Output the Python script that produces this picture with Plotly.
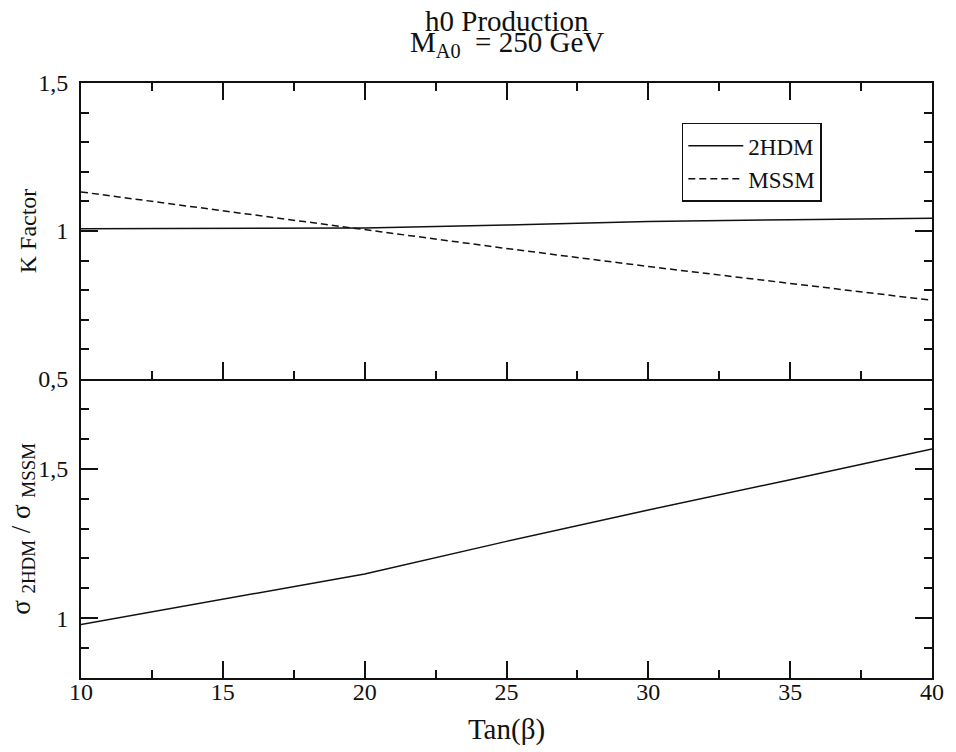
import plotly.graph_objects as go

tan_beta = [10, 15, 20, 25, 30, 35, 40]
k_2hdm = [1.008, 1.008, 1.010, 1.020, 1.032, 1.038, 1.043]
k_mssm = [1.132, 1.068, 1.005, 0.941, 0.880, 0.822, 0.766]
ratio = [0.979, 1.063, 1.148, 1.257, 1.362, 1.463, 1.566]

x_ticks = [10, 15, 20, 25, 30, 35, 40]
top_yvals = [0.5, 1.0, 1.5]
top_ytext = ["0,5", "1", "1,5"]
bot_yvals = [1.0, 1.5]
bot_ytext = ["1", "1,5"]

FONT = "Liberation Serif"
BLACK = "#111111"

fig = go.Figure()
fig.add_trace(go.Scatter(x=tan_beta, y=k_2hdm, mode="lines", name="2HDM",
                         line=dict(color=BLACK, width=1.5), xaxis="x", yaxis="y"))
fig.add_trace(go.Scatter(x=tan_beta, y=k_mssm, mode="lines", name="MSSM",
                         line=dict(color=BLACK, width=1.5, dash="7px,4px"), xaxis="x", yaxis="y"))
fig.add_trace(go.Scatter(x=tan_beta, y=ratio, mode="lines", name="ratio", showlegend=False,
                         line=dict(color=BLACK, width=1.5), xaxis="x2", yaxis="y2"))

split = 0.5025

common_x = dict(range=[10, 40], tickvals=x_ticks, ticks="inside", ticklen=17, tickwidth=1.5,
                tickcolor=BLACK, showline=True, linecolor=BLACK, linewidth=2,
                showgrid=False, zeroline=False,
                minor=dict(dtick=2.5, ticks="inside", ticklen=8, tickwidth=1.5, tickcolor=BLACK,
                           showgrid=False))
common_y = dict(ticks="inside", ticklen=17, tickwidth=1.5, tickcolor=BLACK,
                showline=True, linecolor=BLACK, linewidth=2, mirror="ticks",
                showgrid=False, zeroline=False,
                minor=dict(dtick=0.1, ticks="inside", ticklen=8, tickwidth=1.5, tickcolor=BLACK,
                           showgrid=False),
                ticklabelstandoff=6)

fig.update_layout(
    width=956, height=752,
    margin=dict(l=81, r=19, t=83, b=64),
    paper_bgcolor="white", plot_bgcolor="white",
    font=dict(family=FONT, size=24, color=BLACK),
    xaxis=dict(domain=[0, 1], anchor="y", showticklabels=False, mirror="ticks", **common_x),
    yaxis=dict(domain=[split, 1], anchor="x", range=[0.5, 1.5], tickvals=top_yvals,
               ticktext=top_ytext, **common_y),
    xaxis2=dict(domain=[0, 1], anchor="y2", mirror=False, ticklabelstandoff=-9,
                title=dict(text="Tan(β)", standoff=15), **common_x),
    yaxis2=dict(domain=[0, split], anchor="x2", range=[0.8, 1.8], tickvals=bot_yvals,
                ticktext=bot_ytext, **common_y),
    legend=dict(x=0.706, y=0.933, xanchor="left", yanchor="top", bordercolor=BLACK,
                borderwidth=1.5, bgcolor="white", font=dict(family=FONT, size=23),
                tracegroupgap=0, itemwidth=55),
    showlegend=True,
    annotations=[
        dict(text="h0 Production", xref="paper", yref="paper", x=0.5, y=1.105,
             xanchor="center", yanchor="middle", showarrow=False,
             font=dict(family=FONT, size=29, color=BLACK)),
        dict(text="M<sub>A0</sub>  = 250 GeV", xref="paper", yref="paper", x=0.5, y=1.0653,
             xanchor="center", yanchor="middle", showarrow=False,
             font=dict(family=FONT, size=29, color=BLACK)),
        dict(text="K Factor", xref="paper", yref="paper", x=-0.0619, y=0.7513,
             xanchor="center", yanchor="middle", textangle=-90, showarrow=False,
             font=dict(family=FONT, size=24, color=BLACK)),
        dict(text="σ <sub>2HDM</sub> / σ <sub>MSSM</sub>", xref="paper", yref="paper",
             x=-0.0690, y=0.2512, xanchor="center", yanchor="middle", textangle=-90,
             showarrow=False, font=dict(family=FONT, size=27, color=BLACK)),
    ],
)

fig.write_html("out.html", config={"displayModeBar": False},
               post_script="document.body.style.margin='0';")
